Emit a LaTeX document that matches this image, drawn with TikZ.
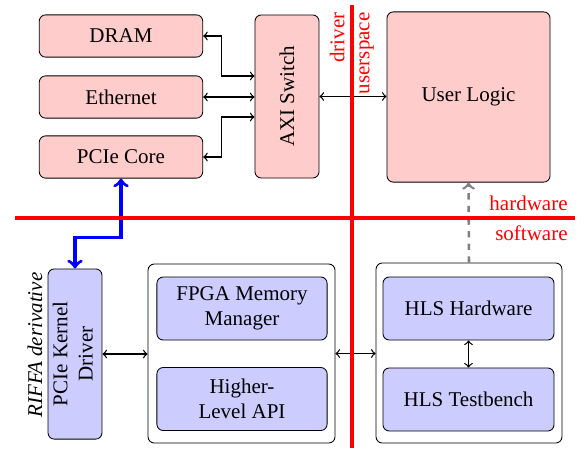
\documentclass[tikz,border=0pt]{standalone}
\usepackage{fontspec}
\setmainfont{Liberation Serif}
\usepackage{graphicx}
\usetikzlibrary{calc}

\begin{document}
\begin{tikzpicture}[x=0.476pt,y=-0.476pt,
  hwbox/.style={draw,rounded corners=3pt,fill=red!20,align=center,inner sep=0pt},
  swbox/.style={draw,rounded corners=3pt,fill=blue!20,align=center,inner sep=0pt},
  grpbox/.style={draw,rounded corners=3pt,fill=white,inner sep=0pt},
  link/.style={<->,semithick},
  split/.style={red,ultra thick}]
\useasboundingbox (0,0) rectangle (584,448);
\node[hwbox,minimum width=77.8pt,minimum height=20.1pt] (dram) at (121,36) {DRAM};
\node[hwbox,minimum width=77.8pt,minimum height=20.1pt] (eth) at (121,97) {Ethernet};
\node[hwbox,minimum width=77.8pt,minimum height=20.1pt] (pcie) at (121,157) {PCIe Core};
\node[hwbox,minimum width=30.5pt,minimum height=77.6pt] (axi) at (287,96.5) {\rotatebox{90}{AXI Switch}};
\node[hwbox,minimum width=77.6pt,minimum height=81pt] (user) at (468.5,97) {User Logic};
\node[swbox,minimum width=25.7pt,minimum height=81pt] (kdrv) at (75,354) {\rotatebox{90}{\begin{tabular}{@{}c@{}}PCIe Kernel\\Driver\end{tabular}}};
\node[rotate=90] (riffa) at (35,345) {\textit{RIFFA derivative}};
\node[grpbox,minimum width=89pt,minimum height=85.2pt] (api) at (241.5,353.5) {};
\node[swbox,minimum width=81pt,minimum height=30pt] (fmm) at (242,308.5) {FPGA Memory\\Manager};
\node[swbox,minimum width=81pt,minimum height=30pt] (hlapi) at (242,399) {Higher-\\Level API};
\node[grpbox,minimum width=88.5pt,minimum height=85.7pt] (hls) at (469,353) {};
\node[swbox,minimum width=81.4pt,minimum height=30pt] (hlshw) at (468.5,308.5) {HLS Hardware};
\node[swbox,minimum width=81.4pt,minimum height=30pt] (hlstb) at (468.5,399.5) {HLS Testbench};
\draw[link] (dram.east) -- ++(18,0) |- ($(axi.west)+(0,-20.5)$);
\draw[link] (eth.east) -- (eth.east -| axi.west);
\draw[link] (pcie.east) -- ++(18,0) |- ($(axi.west)+(0,20.5)$);
\draw[link] (axi.east) -- (axi.east -| user.west);
\draw[link] (kdrv.east) -- (kdrv.east -| api.west);
\draw[link] (api.east) -- (api.east -| hls.west);
\draw[link] (hlshw) -- (hlstb);
\draw[<->,blue,ultra thick] (pcie.south) -- ++(0,59) -| (kdrv.north);
\draw[->,gray,very thick,dashed] (hls.north) -- (user.south);
\coordinate (vtop) at (352,5);
\coordinate (vbot) at (352,448);
\coordinate (hleft) at (15,218);
\coordinate (hright) at (575,218);
\draw[split] (vtop) -- (vbot);
\draw[split] (hleft) -- (hright);
\node[red,rotate=90,anchor=south east] (drv) at (vtop) {driver};
\node[red,rotate=90,anchor=north east] (usp) at (vtop) {userspace};
\node[red,anchor=south east] (hwl) at (hright) {hardware};
\node[red,anchor=north east] (swl) at (hright) {software};
\end{tikzpicture}
\end{document}
